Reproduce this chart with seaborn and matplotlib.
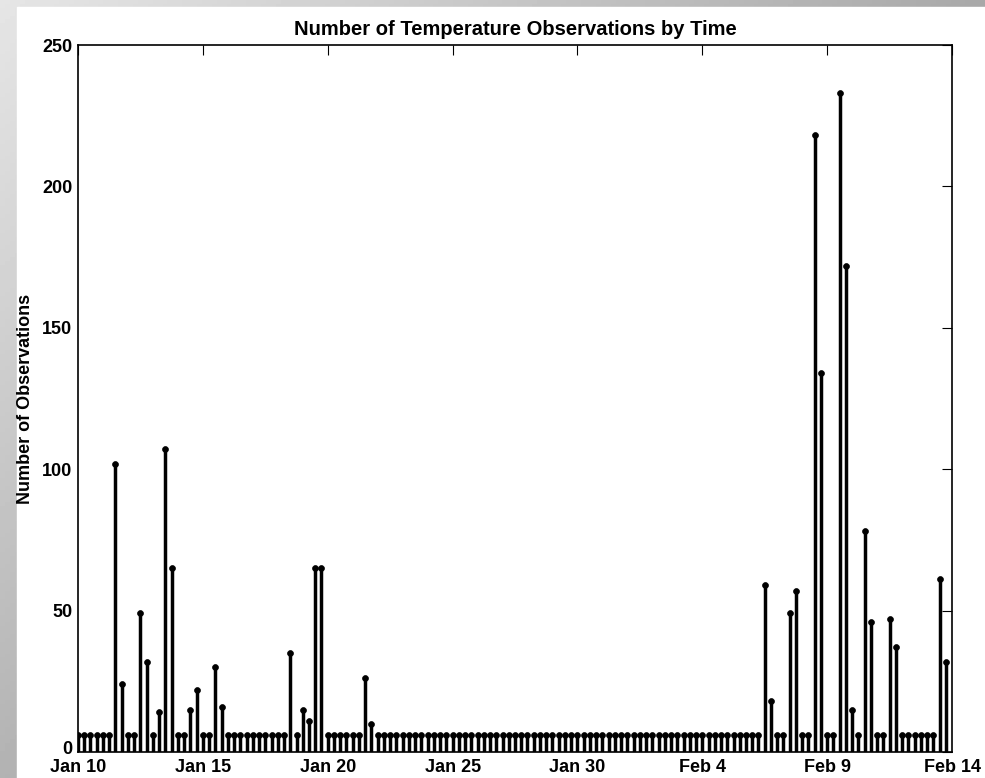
import numpy as np
import pandas as pd
import matplotlib
matplotlib.use("Agg")
import matplotlib.pyplot as plt
import matplotlib.dates as mdates
import matplotlib.transforms as mtransforms
import seaborn as sns

# ---- data (observations per 6-hour bin, starting Jan 10 00:00) ----
counts = [
    6, 6, 6, 6, 6, 6, 102, 24, 6, 6, 49, 32, 6, 14, 107, 65, 6, 6, 15, 22,
    6, 6, 30, 16, 6, 6, 6, 6, 6, 6, 6, 6, 6, 6, 35, 6, 15, 11, 65, 65,
    6, 6, 6, 6, 6, 6, 26, 10, 6, 6, 6, 6, 6, 6, 6, 6, 6, 6, 6, 6,
    6, 6, 6, 6, 6, 6, 6, 6, 6, 6, 6, 6, 6, 6, 6, 6, 6, 6, 6, 6,
    6, 6, 6, 6, 6, 6, 6, 6, 6, 6, 6, 6, 6, 6, 6, 6, 6, 6, 6, 6,
    6, 6, 6, 6, 6, 6, 6, 6, 6, 6, 59, 18, 6, 6, 49, 57, 6, 6, 218, 134,
    6, 6, 233, 172, 15, 6, 78, 46, 6, 6, 47, 37, 6, 6, 6, 6, 6, 6, 61, 32,
]
start_time = "2011-01-10 00:00"
bin_freq = "6h"
tick_dates = ["2011-01-10", "2011-01-15", "2011-01-20", "2011-01-25",
              "2011-01-30", "2011-02-04", "2011-02-09", "2011-02-14"]
tick_labels = ["Jan 10", "Jan 15", "Jan 20", "Jan 25",
               "Jan 30", "Feb 4", "Feb 9", "Feb 14"]
y_ticks = [0, 50, 100, 150, 200, 250]

times = pd.date_range(start_time, periods=len(counts), freq=bin_freq)
df = pd.DataFrame({"time": times, "count": counts})

sns.set_theme(style="white")
plt.rcParams["font.family"] = ["Liberation Sans", "DejaVu Sans"]
plt.rcParams["font.weight"] = "bold"
plt.rcParams["text.color"] = "black"
plt.rcParams["axes.labelcolor"] = "black"
plt.rcParams["xtick.color"] = "black"
plt.rcParams["ytick.color"] = "black"

W, H = 985, 778
fig = plt.figure(figsize=(W / 100, H / 100), dpi=100)

# gray gradient backdrop with white panel
bg = fig.add_axes([0, 0, 1, 1], zorder=-10)
gx = np.linspace(0, 1, 200)
gy = np.linspace(0, 1, 200)
GX, GY = np.meshgrid(gx, gy)
grad = 0.90 - 0.24 * GX - 0.20 * GY
bg.imshow(grad, cmap="gray", vmin=0, vmax=1, extent=[0, W, H, 0], aspect="auto")
bg.add_patch(plt.Rectangle((17, 7), W - 17, H - 7, color="white", zorder=2))
bg.set_xlim(0, W)
bg.set_ylim(H, 0)
bg.axis("off")

L, R, T, B = 78, 952, 45, 752
ax = fig.add_axes([L / W, 1 - B / H, (R - L) / W, (B - T) / H])
ax.set_facecolor("white")

x_num = mdates.date2num(df["time"])
ax.vlines(x_num, 0, df["count"], color="black", linewidth=2.5, zorder=3)
sns.scatterplot(x=x_num, y=df["count"], ax=ax, color="black", s=18,
                edgecolor="black", linewidth=0.5, zorder=4, legend=False)

ax.set_xlim(mdates.date2num(pd.Timestamp(tick_dates[0])),
            mdates.date2num(pd.Timestamp(tick_dates[-1])))
ax.set_ylim(0, 250)
ax.set_xticks(mdates.date2num(pd.to_datetime(tick_dates)))
ax.set_xticklabels(tick_labels)
ax.set_yticks(y_ticks)
ax.set_yticklabels([str(v) for v in y_ticks])

ax.tick_params(axis="both", direction="in", length=7, width=0.8, color="black",
               top=True, right=True, labelsize=13, labelcolor="black")
ax.tick_params(axis="x", pad=5)
ax.tick_params(axis="y", pad=4)
for lab in ax.get_xticklabels() + ax.get_yticklabels():
    lab.set_fontweight("bold")

# raise the "0" label slightly, as in the reference
zero_lab = ax.get_yticklabels()[0]
zero_lab.set_transform(zero_lab.get_transform() +
                       mtransforms.ScaledTranslation(0, 4 / 100, fig.dpi_scale_trans))

for side in ["left", "bottom", "top", "right"]:
    ax.spines[side].set_visible(True)
    ax.spines[side].set_color("black")
    ax.spines[side].set_linewidth(1.2)

ax.set_xlabel("")
ax.set_ylabel("Number of Observations", fontsize=13, fontweight="bold",
              labelpad=6, color="black")
ax.set_title("Number of Temperature Observations by Time", fontsize=14.5,
             fontweight="bold", pad=7, color="black")

fig.savefig("out.png", dpi=100)
